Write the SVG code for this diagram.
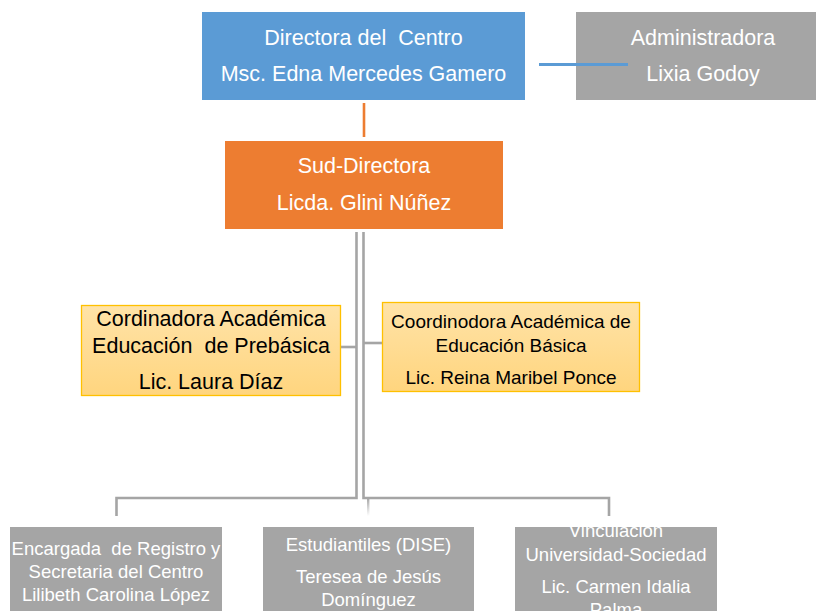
<svg xmlns="http://www.w3.org/2000/svg" width="816" height="611" viewBox="0 0 816 611">
<style>
.t{font-family:"Liberation Sans",Arial,sans-serif;text-anchor:middle;white-space:pre}
.w{fill:#ffffff}
.k{fill:#000000}
.f21{font-size:21.5px}
.f19{font-size:19px}
.f18{font-size:18.5px}
.gray{fill:#A5A5A5}
.conn{fill:none;stroke:#A5A5A5;stroke-width:2.6}
</style>
<defs>
<linearGradient id="yg" x1="0" y1="0" x2="0" y2="1">
<stop offset="0" stop-color="#FFE3A8"/>
<stop offset="1" stop-color="#FFD57E"/>
</linearGradient>
<linearGradient id="fade" x1="0" y1="0" x2="0" y2="1">
<stop offset="0" stop-color="#A5A5A5"/>
<stop offset="1" stop-color="#A5A5A5" stop-opacity="0"/>
</linearGradient>
<clipPath id="c3"><rect x="515" y="527" width="202" height="84"/></clipPath>
</defs>
<rect width="816" height="611" fill="#ffffff"/>

<g id="connectors">
<line x1="364" y1="103" x2="364" y2="137" stroke="#ED7D31" stroke-width="2.6"/>
<path class="conn" d="M356.5,232 V498 H116.5 V516"/>
<path class="conn" d="M363.5,232 V498 H609 V516"/>
<rect x="367" y="498" width="2.4" height="18" fill="url(#fade)"/>
<line class="conn" x1="341" y1="347" x2="356.5" y2="347"/>
<line class="conn" x1="363.5" y1="343" x2="382" y2="343"/>
</g>

<g id="admin">
<rect x="576" y="12" width="250" height="88" class="gray"/>
<text class="t w f21" x="703" y="45">Administradora</text>
<text class="t w f21" x="703" y="81">Lixia Godoy</text>
</g>
<line id="admin-link" x1="539" y1="64.5" x2="628" y2="64.5" stroke="#5B9BD5" stroke-width="3"/>

<g id="directora">
<rect x="202" y="12" width="323" height="88" fill="#5B9BD5"/>
<text class="t w f21" x="363.5" y="45">Directora del  Centro</text>
<text class="t w f21" x="363.5" y="81">Msc. Edna Mercedes Gamero</text>
</g>

<g id="subdirectora">
<rect x="225" y="141" width="278" height="88" fill="#ED7D31"/>
<text class="t w f21" x="364" y="173">Sud-Directora</text>
<text class="t w f21" x="364" y="210">Licda. Glini Núñez</text>
</g>

<g id="coord-prebasica">
<rect x="81.5" y="305.5" width="259" height="90" fill="url(#yg)" stroke="#FFC000" stroke-width="1.3"/>
<text class="t k f21" x="211" y="326">Cordinadora Académica</text>
<text class="t k f21" x="211" y="353">Educación  de Prebásica</text>
<text class="t k f21" x="211" y="389">Lic. Laura Díaz</text>
</g>

<g id="coord-basica">
<rect x="382.5" y="302.5" width="257" height="89" fill="url(#yg)" stroke="#FFC000" stroke-width="1.3"/>
<text class="t k f19" x="511" y="328">Coordinodora Académica de</text>
<text class="t k f19" x="511" y="352">Educación Básica</text>
<text class="t k f19" x="511" y="384">Lic. Reina Maribel Ponce</text>
</g>

<g id="registro">
<rect x="10" y="527" width="212" height="84" class="gray"/>
<text class="t w f18" x="116" y="555">Encargada  de Registro y</text>
<text class="t w f18" x="116" y="578">Secretaria del Centro</text>
<text class="t w f18" x="116" y="601">Lilibeth Carolina López</text>
</g>

<g id="dise">
<rect x="263" y="527" width="211" height="84" class="gray"/>
<text class="t w f18" x="368.5" y="551">Estudiantiles (DISE)</text>
<text class="t w f18" x="368.5" y="583">Teresea de Jesús</text>
<text class="t w f18" x="368.5" y="606">Domínguez</text>
</g>

<g id="vinculacion">
<rect x="515" y="527" width="202" height="84" class="gray"/>
<g clip-path="url(#c3)">
<text class="t w f18" x="616" y="537">Vinculación</text>
<text class="t w f18" x="616" y="561">Universidad-Sociedad</text>
<text class="t w f18" x="616" y="593">Lic. Carmen Idalia</text>
<text class="t w f18" x="616" y="616">Palma</text>
</g>
</g>
</svg>
